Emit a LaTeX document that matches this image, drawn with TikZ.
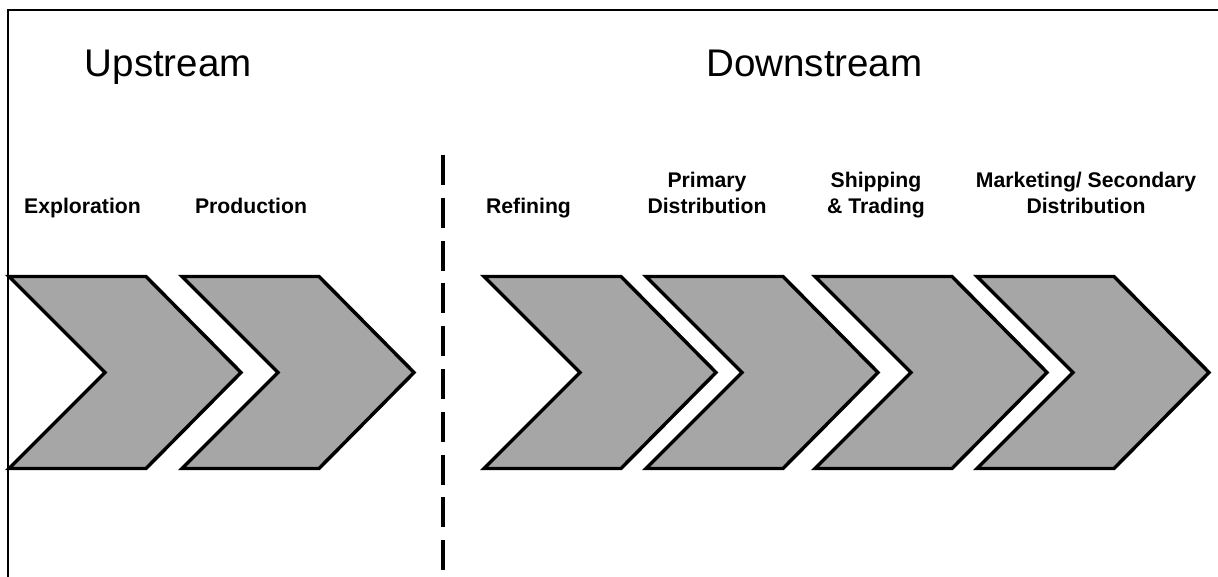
\documentclass[tikz,border=0pt]{standalone}
\usepackage{fontspec}
\setmainfont{Liberation Sans}
\begin{document}
\begin{tikzpicture}[x=0.75pt,y=-0.75pt,
  chevronfill/.style={fill={rgb,255:red,166;green,166;blue,166},draw=black,line width=2.6pt,line join=miter},
  heading/.style={anchor=base west,inner sep=0pt,font=\fontsize{28.9pt}{34pt}\selectfont},
  stage/.style={anchor=base,inner sep=0pt,align=center,font=\fontsize{15.9pt}{19.5pt}\selectfont\bfseries},
  divider/.style={line width=3pt,dash pattern=on 22.5pt off 9.6pt}]
  % canvas
  \useasboundingbox (0,0) rectangle (1218,577);
  \fill[white] (0,0) rectangle (1218,577);
  % frame (top and left edges)
  \coordinate (fbl) at (8,577);
  \coordinate (ftl) at (8,10);
  \coordinate (ftr) at (1218,10);
  \draw[line width=1.6pt] (fbl) -- (ftl) -- (ftr);

  % chevrons: top-left x of each arrow
  \foreach \x/\n in {9/c1,182/c2,484/c3,646/c4,815/c5,977/c6}{
    \coordinate (\n-tl) at (\x,276.5);
    \coordinate (\n-tr) at (\x+137,276.5);
    \coordinate (\n-tip) at (\x+232,372.5);
    \coordinate (\n-br) at (\x+137,468.5);
    \coordinate (\n-bl) at (\x,468.5);
    \coordinate (\n-notch) at (\x+96,372.5);
    \draw[chevronfill] (\n-tl) -- (\n-tr) -- (\n-tip) -- (\n-br) -- (\n-bl) -- (\n-notch) -- cycle;
  }

  % dashed divider
  \coordinate (dtop) at (443,155);
  \coordinate (dbot) at (443,571);
  \draw[divider] (dtop) -- (dbot);

  % headings
  \node[heading] (up) at (84.5,77) {Upstream};
  \node[heading] (down) at (706,77) {Downstream};

  % stage labels (base = baseline of the last line)
  \node[stage] (expl) at (82.5,214) {Exploration};
  \node[stage] (prod) at (251,214) {Production};
  \node[stage] (refi) at (528.5,214) {Refining};
  \node[stage] (prim) at (707,214) {Primary\\Distribution};
  \node[stage] (ship) at (876,214) {Shipping\\\& Trading};
  \node[stage] (mark) at (1086,214) {Marketing/ Secondary\\Distribution};
\end{tikzpicture}
\end{document}
